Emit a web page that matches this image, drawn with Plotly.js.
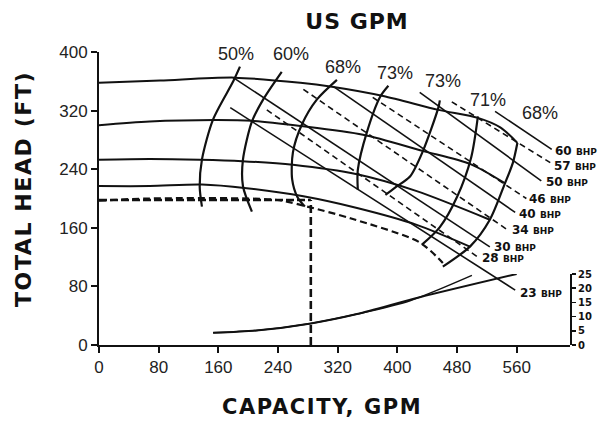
<!DOCTYPE html>
<html>
<head>
<meta charset="utf-8">
<script src="https://cdn.plot.ly/plotly-3.0.1.min.js"></script>
<style>html,body{margin:0;padding:0;background:#fff;}#chart{width:599px;height:422px;}</style>
</head>
<body>
<div id="chart"></div>
<script>
// ---- axis ticks ----
const gpmTicks = [0, 80, 160, 240, 320, 400, 480, 560];
const headTicks = [0, 80, 160, 240, 320, 400];
const npshTicks = [0, 5, 10, 15, 20, 25];

// ---- head-capacity curves (GPM, ft) ----
const head1Q = [0, 82, 182, 270, 310, 381, 455, 508, 538, 561];
const head1H = [358, 361, 365, 358, 353, 340, 321, 310, 297, 276];
const head2Q = [0, 68, 156, 205, 270, 354, 434, 498, 544];
const head2H = [300, 305, 307, 306, 299, 287, 265, 247, 221];
const head3Q = [0, 68, 135, 192, 260, 346, 426, 524];
const head3H = [253, 254, 253, 251, 246, 233, 210, 171];
const head4Q = [0, 68, 138, 198, 274, 346, 426, 498];
const head4H = [217, 217, 219, 214, 203, 187, 164, 134];
const trimQ = [0, 68, 239, 279, 337, 430, 461];
const trimH = [197, 200, 198, 189, 173, 140, 112];

// ---- iso-efficiency curves ----
const effNames = ['50%', '60%', '68%', '73%', '73%', '71%', '68%'];
const effQ = [
  [189, 180, 153, 138, 135, 138],
  [245, 220, 205, 193, 193, 205],
  [319, 292, 272, 260, 259, 266, 276],
  [388, 377, 359, 347, 347],
  [457, 455, 434, 417, 397, 384],
  [508, 499, 480, 457, 433],
  [561, 555, 544, 524, 498, 461]
];
const effH = [
  [380, 360, 308, 253, 216, 189],
  [373, 335, 305, 253, 217, 182],
  [362, 335, 301, 263, 226, 202, 189],
  [354, 339, 290, 239, 212],
  [334, 324, 264, 230, 215, 205],
  [312, 256, 202, 161, 137],
  [276, 249, 220, 171, 135, 107]
];
const effLabelQ = [184, 258, 327, 397, 461, 522, 591];
const effLabelH = [397, 397, 379, 372, 360, 335, 317];

// ---- brake horsepower lines ----
const bhpNames = ['60', '57', '50', '46', '40', '34', '30', '28', '23'];
const bhpDashed = [false, true, false, true, false, true, false, true, false];
const bhpQ0 = [531, 473, 430, 367, 314, 274, 180, 225, 176];
const bhpH0 = [319, 332, 345, 338, 353, 349, 365, 321, 324];
const bhpQ1 = [607, 605, 593, 573, 558, 548, 524, 508, 558];
const bhpH1 = [267, 249, 224, 200, 181, 157, 134, 120, 75];
const bhpLabelQ = [609, 608, 596, 574, 561, 551, 527, 511, 562];
const bhpLabelH = [265, 245, 222, 200, 179, 157, 134, 119, 71];

// ---- NPSH required (GPM, ft NPSH) ----
const npshQ = [153, 211, 284, 346, 430, 560];
const npsh = [4.3, 5.1, 7.6, 10.9, 16.8, 25.0];
const npsh2Q = [153, 211, 284, 346, 417, 500];
const npsh2 = [4.3, 5.1, 7.6, 10.9, 15.6, 24.5];

// ---- operating point ----
const opQ = 284;
const opH = 198;

const ink = '#111';
const traces = [];
function addLine(x, y, opts) {
  traces.push(Object.assign({
    type: 'scatter', mode: 'lines', x: x, y: y, hoverinfo: 'skip', showlegend: false,
    line: {color: ink, width: 2, shape: 'spline', smoothing: 0.8}
  }, opts || {}));
}
addLine(head1Q, head1H);
addLine(head2Q, head2H);
addLine(head3Q, head3H);
addLine(head4Q, head4H);
addLine(trimQ, trimH, {line: {color: ink, width: 2.2, dash: '7px,4px', shape: 'spline', smoothing: 0.8}});
for (let i = 0; i < effQ.length; i++) {
  addLine(effQ[i], effH[i], {line: {color: ink, width: 2.2, shape: 'spline', smoothing: 0.8}});
}
for (let i = 0; i < bhpNames.length; i++) {
  addLine([bhpQ0[i], bhpQ1[i]], [bhpH0[i], bhpH1[i]],
    {line: {color: ink, width: 1.6, dash: bhpDashed[i] ? '6px,4px' : 'solid'}});
}
// operating point guide lines
addLine([0, opQ], [opH, opH], {line: {color: ink, width: 2.6, dash: '8px,3px'}});
addLine([opQ, opQ], [0, opH], {line: {color: ink, width: 2.6, dash: '8px,4px'}});
// NPSH curves
addLine(npshQ, npsh, {yaxis: 'y2', line: {color: ink, width: 2, shape: 'spline', smoothing: 0.8}});
addLine(npsh2Q, npsh2, {yaxis: 'y2', line: {color: ink, width: 1.5, shape: 'spline', smoothing: 0.8}});

const titleFont = {family: 'DejaVu Sans, sans-serif', size: 21, color: ink, weight: 'bold'};
const annotations = [];
for (let i = 0; i < effNames.length; i++) {
  annotations.push({x: effLabelQ[i], y: effLabelH[i], xref: 'x', yref: 'y', text: effNames[i],
    showarrow: false, font: {family: 'Liberation Sans, Arial, sans-serif', size: 18, color: '#222'}});
}
for (let i = 0; i < bhpNames.length; i++) {
  annotations.push({x: bhpLabelQ[i], y: bhpLabelH[i], xref: 'x', yref: 'y', xanchor: 'left',
    text: bhpNames[i] + ' <span style="font-size:9px">BHP</span>',
    showarrow: false, font: {family: 'DejaVu Sans, sans-serif', size: 12, color: ink, weight: 'bold'}});
}
// axis titles
annotations.push({xref: 'paper', yref: 'paper', x: (322 - 99) / 471, y: (345 - 407) / 293,
  xanchor: 'center', yanchor: 'middle', showarrow: false,
  text: '<span style="letter-spacing:1.6px">CAPACITY, GPM</span>', font: titleFont});
annotations.push({xref: 'paper', yref: 'paper', x: (23 - 99) / 471, y: (345 - 189) / 293,
  xanchor: 'center', yanchor: 'middle', showarrow: false, textangle: -90,
  text: '<span style="letter-spacing:1.6px">TOTAL HEAD (FT)</span>',
  font: {family: 'DejaVu Sans, sans-serif', size: 22, color: ink, weight: 'bold'}});

const layout = {
  width: 599, height: 422,
  margin: {l: 99, r: 29, t: 52, b: 77},
  paper_bgcolor: '#fff', plot_bgcolor: 'rgba(0,0,0,0)',
  showlegend: false,
  title: {text: '<span style="letter-spacing:1px">US GPM</span>', x: 357 / 599, xanchor: 'center', xref: 'container',
    y: 1 - 21 / 422, yref: 'container', yanchor: 'middle',
    font: {family: 'DejaVu Sans, sans-serif', size: 22, color: ink, weight: 'bold'}},
  xaxis: {
    range: [0, 631.5], tickvals: gpmTicks, ticktext: gpmTicks.map(String),
    showgrid: false, zeroline: false, showline: true, linecolor: ink, linewidth: 2,
    ticks: 'outside', ticklen: 6, tickwidth: 2, tickcolor: ink,
    tickfont: {family: 'Liberation Sans, Arial, sans-serif', size: 17, color: '#222'}
  },
  yaxis: {
    range: [0, 400], tickvals: headTicks, ticktext: headTicks.map(String),
    showgrid: false, zeroline: false, showline: true, linecolor: ink, linewidth: 2,
    ticks: 'outside', ticklen: 6, tickwidth: 2, tickcolor: ink,
    tickfont: {family: 'Liberation Sans, Arial, sans-serif', size: 17, color: '#222'}
  },
  yaxis2: {
    domain: [0, 71 / 293], range: [0, 25], anchor: 'x', side: 'right',
    tickvals: npshTicks, ticktext: npshTicks.map(String),
    showgrid: false, zeroline: false, showline: true, linecolor: ink, linewidth: 2,
    ticks: 'outside', ticklen: 4, tickwidth: 1.5, tickcolor: ink,
    tickfont: {family: 'DejaVu Sans, sans-serif', size: 10, color: ink, weight: 'bold'}
  },
  annotations: annotations
};
Plotly.newPlot('chart', traces, layout, {staticPlot: true, displayModeBar: false});
</script>
</body>
</html>
